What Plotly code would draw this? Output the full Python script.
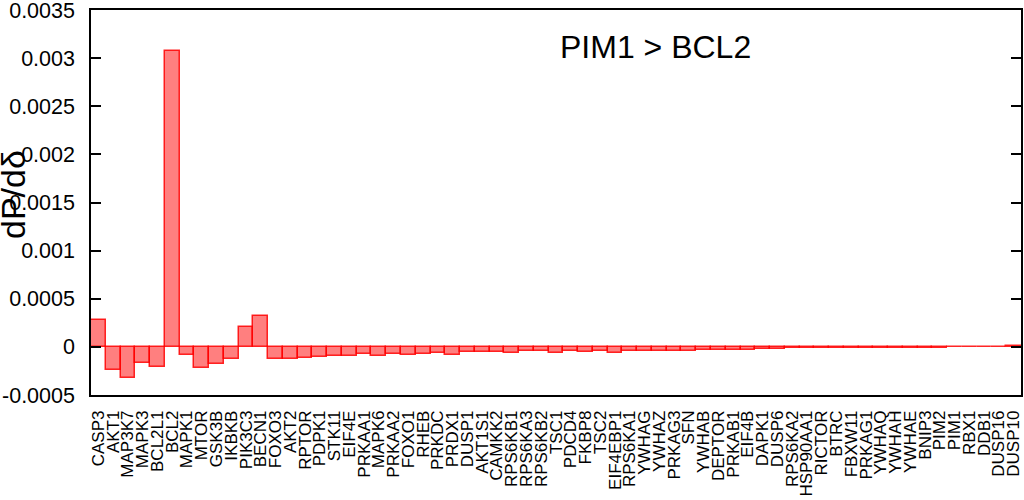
import plotly.graph_objects as go

genes = ["CASP3", "AKT1", "MAP3K7", "MAPK3", "BCL2L1", "BCL2", "MAPK1", "MTOR", "GSK3B", "IKBKB",
         "PIK3C3", "BECN1", "FOXO3", "AKT2", "RPTOR", "PDPK1", "STK11", "EIF4E", "PRKAA1", "MAPK6",
         "PRKAA2", "FOXO1", "RHEB", "PRKDC", "PRDX1", "DUSP1", "AKT1S1", "CAMKK2", "RPS6KB1", "RPS6KA3",
         "RPS6KB2", "TSC1", "PDCD4", "FKBP8", "TSC2", "EIF4EBP1", "RPS6KA1", "YWHAG", "YWHAZ", "PRKAG3",
         "SFN", "YWHAB", "DEPTOR", "PRKAB1", "EIF4B", "DAPK1", "DUSP6", "RPS6KA2", "HSP90AA1", "RICTOR",
         "BTRC", "FBXW11", "PRKAG1", "YWHAQ", "YWHAH", "YWHAE", "BNIP3", "PIM2", "PIM1", "RBX1",
         "DDB1", "DUSP16", "DUSP10"]

dP_ddelta = [0.000277, -0.000242, -0.000322, -0.000169, -0.000211, 0.00307, -0.000086, -0.000218, -0.000183, -0.000124,
             0.000204, 0.000322, -0.000128, -0.000131, -0.000114, -0.000104, -0.000097, -0.000097, -0.000076, -0.00009,
             -0.000069, -0.000083, -0.000069, -0.000062, -0.000083, -0.000055, -0.000052, -0.000052, -0.000059, -0.000046,
             -0.000046, -0.000062, -0.000045, -0.000052, -0.000041, -0.000059, -0.000041, -0.000041, -0.000041, -0.000041,
             -0.000041, -0.000031, -0.000035, -0.000035, -0.000028, -0.000024, -0.000018, -0.000016, -0.000015, -0.000014,
             -0.000012, -0.000012, -0.00001, -0.00001, -0.000009, -0.000008, -0.000008, -0.000007, -0.000006, -0.000006,
             -0.000005, -0.000005, 0.000005]

y_tickvals = [-0.0005, 0, 0.0005, 0.001, 0.0015, 0.002, 0.0025, 0.003, 0.0035]
y_ticktext = ["-0.0005", "0", "0.0005", "0.001", "0.0015", "0.002", "0.0025", "0.003", "0.0035"]

title_text = "PIM1 > BCL2"
y_title = "dP/dδ"

FONT = "Liberation Sans, Arial, Helvetica, sans-serif"

fig = go.Figure()
fig.add_trace(go.Bar(
    x=genes, y=dP_ddelta,
    marker=dict(color="rgba(255,0,0,0.5)", line=dict(color="rgba(255,0,0,0.85)", width=1.5)),
))

fig.update_layout(
    width=1024, height=500,
    margin=dict(l=91, r=3, t=10, b=105, autoexpand=False),
    paper_bgcolor="white", plot_bgcolor="white",
    bargap=0, showlegend=False,
    font=dict(family=FONT, color="black"),
)
fig.update_xaxes(
    type="category", range=[-0.5, len(genes) - 0.5], automargin=False,
    tickmode="array", tickvals=genes, ticktext=genes,
    showline=True, mirror=True, linecolor="black", linewidth=1.5,
    ticks="", tickangle=-90, tickfont=dict(size=17, family=FONT, color="black"),
    showgrid=False, ticklabelstandoff=7,
)
fig.update_yaxes(
    range=[-0.0005, 0.00350001], tickvals=y_tickvals, ticktext=y_ticktext, automargin=False,
    showline=True, mirror="ticks", linecolor="black", linewidth=1.5,
    ticks="inside", ticklen=10, tickwidth=1.5, tickcolor="black",
    tickfont=dict(size=21.5, family=FONT, color="black"),
    showgrid=False, zeroline=False, ticklabelstandoff=10, ticklabeloverflow="allow",
)
fig.add_annotation(text=title_text, xref="paper", yref="paper", x=0.6075, y=0.9035,
                   xanchor="center", yanchor="middle", showarrow=False,
                   font=dict(size=32, family=FONT, color="black"))
fig.add_annotation(text=y_title, xref="paper", yref="paper", x=0, y=(395 - 195) / 385,
                   xanchor="center", yanchor="middle", xshift=-78, textangle=-90, showarrow=False,
                   font=dict(size=34, family=FONT, color="black"))

fig.write_html("out.html", config={"displayModeBar": False},
               post_script="document.body.style.margin='0';document.body.style.overflow='hidden';")
